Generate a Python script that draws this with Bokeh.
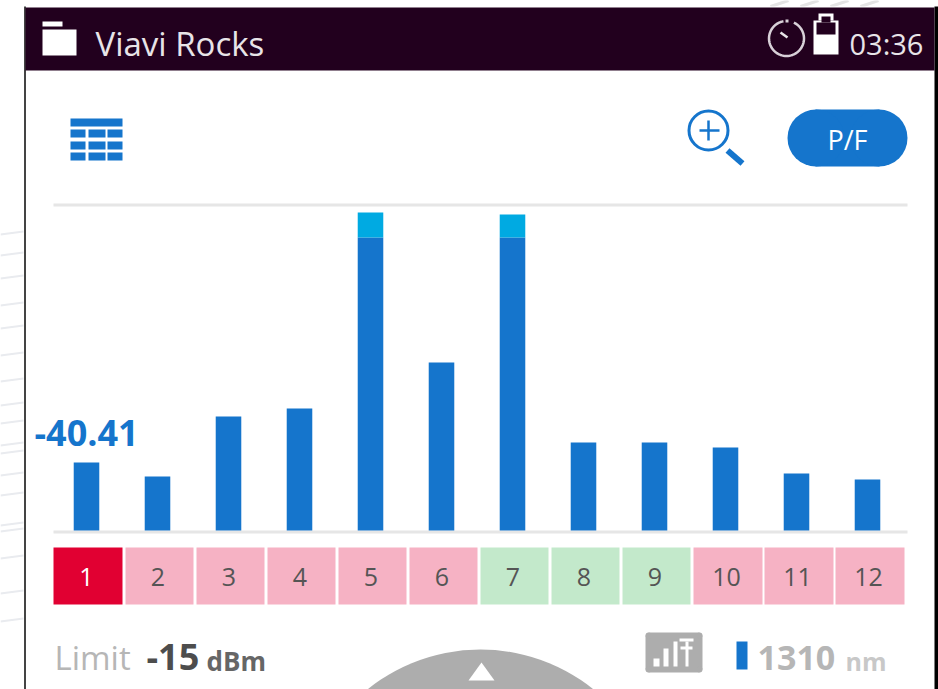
import math
from bokeh.plotting import figure
from bokeh.embed import file_html
from bokeh.resources import INLINE
from bokeh.models import Range1d
from bokeh.core.properties import value

channels = [1, 2, 3, 4, 5, 6, 7, 8, 9, 10, 11, 12]
levels = [68, 54, 114, 122, 293, 168, 293, 88, 88, 83, 57, 51]
overflow = [0, 0, 0, 0, 25, 0, 23, 0, 0, 0, 0, 0]
status = ["sel", "fail", "fail", "fail", "fail", "fail", "pass", "pass", "pass", "fail", "fail", "fail"]
title = "Viavi Rocks"
clock = "03:36"
readout = "-40.41"
limit_label, limit_value, limit_unit = "Limit", "-15", "dBm"
wave_value, wave_unit = "1310", "nm"

BLUE = "#1575cc"
CYAN = "#00aae2"
HEAD = "#22001e"
tile_fill = {"sel": "#e10032", "fail": "#f6b2c4", "pass": "#c3e9cb"}
tile_text = {"sel": "#ffffff", "fail": "#555555", "pass": "#555555"}
tile_left = [53, 125, 196, 267, 338, 409, 480, 551, 622, 693, 764, 835]
tile_right = [122, 193, 264, 335, 406, 477, 548, 619, 690, 762, 833, 904]
FONT = "Open Sans"

p = figure(width=938, height=689, x_range=Range1d(0, 938), y_range=Range1d(689, 0),
           toolbar_location=None, output_backend="svg", min_border=0,
           x_axis_location=None, y_axis_location=None)
p.grid.visible = False
p.outline_line_color = None
p.background_fill_color = "#ffffff"
p.border_fill_color = "#ffffff"
p.extra_x_ranges["ch"] = Range1d(1 + (0 - 86) / 71.0, 1 + (938 - 86) / 71.0)
p.extra_y_ranges["lv"] = Range1d(530 - 689, 530)


def txt(x, y, s, size, color, style="normal", align="left", font=FONT):
    p.text([x], [y], text=[s], text_font=value(font), text_font_size=f"{size}px",
           text_color=color, text_font_style=style, text_align=align, text_baseline="middle")


# streaks of the photo background
streak_y = [231, 252, 275, 302, 325, 352, 378, 402, 420, 442, 450, 472, 492, 522, 528, 555, 590, 618]
for sy in streak_y:
    p.line([0, 23], [sy + 3, sy], line_color="#e9ebef", line_width=2)
for sx in (770, 800, 830, 860):
    p.line([sx, sx + 18], [6, 0], line_color="#e4e4e4", line_width=3)

# device frame
p.quad(left=[25], right=[934], top=[6], bottom=[689], fill_color="#ffffff", line_color=None)
p.line([24.5, 24.5], [6, 689], line_color="#444444", line_width=2)
p.quad(left=[934], right=[938], top=[6], bottom=[689], fill_color="#000000", line_color=None)
p.quad(left=[25], right=[934], top=[7], bottom=[70], fill_color=HEAD, line_color=None)

# header
p.quad(left=[42], right=[76], top=[29], bottom=[55], fill_color="#ffffff", line_color=None)
p.quad(left=[42], right=[62], top=[21], bottom=[26], fill_color="#ffffff", line_color=None)
txt(95, 43, title, 33, "#e8e4e8")
txt(849, 43, clock, 29, "#e8e4e8")
ring = [a * math.pi / 180 for a in range(-65, 265, 5)]
p.line([786 + 17.5 * math.cos(a) for a in ring], [38 + 17.5 * math.sin(a) for a in ring],
       line_color="#d8d0d8", line_width=2.5)
p.line([780, 787], [32, 37], line_color="#e8e4e8", line_width=2.5)
p.quad(left=[785], right=[788], top=[19], bottom=[22], fill_color="#d8d0d8", line_color=None)
p.quad(left=[813], right=[838], top=[20], bottom=[54], fill_color="#ffffff", line_color=None)
p.quad(left=[818], right=[833], top=[13], bottom=[20], fill_color="#ffffff", line_color=None)
p.quad(left=[816], right=[835], top=[22], bottom=[34], fill_color=HEAD, line_color=None)
p.quad(left=[821], right=[830], top=[16], bottom=[22], fill_color=HEAD, line_color=None)

# table icon
p.quad(left=[70], right=[122], top=[118], bottom=[126], fill_color=BLUE, line_color=None)
for top in (129, 141, 152):
    p.quad(left=[70, 88, 107], right=[85, 105, 122], top=[top] * 3, bottom=[top + 8] * 3,
           fill_color=BLUE, line_color=None)

# zoom icon
p.circle([708], [130], radius=19.5, fill_color=None, line_color=BLUE, line_width=3)
p.line([699, 719], [130, 130], line_color=BLUE, line_width=2.5)
p.line([708, 708], [120, 140], line_color=BLUE, line_width=2.5)
p.line([727, 742], [150, 163], line_color=BLUE, line_width=6)

# P/F pill
p.quad(left=[815], right=[879], top=[109], bottom=[166], fill_color=BLUE, line_color=None)
p.circle([815.5, 878.5], [137.5, 137.5], radius=28.5, fill_color=BLUE, line_color=None)
txt(847, 139, "P/F", 27, "#ffffff", align="center")

# plot rules
p.quad(left=[53], right=[907], top=[203], bottom=[206], fill_color="#e6e6e6", line_color=None)
p.quad(left=[53], right=[907], top=[530], bottom=[533], fill_color="#e6e6e6", line_color=None)

# bars
p.vbar(x=channels, width=0.36, bottom=0, top=levels, fill_color=BLUE, line_color=None,
       x_range_name="ch", y_range_name="lv")
cap_x = [c for c, o in zip(channels, overflow) if o]
cap_b = [l for l, o in zip(levels, overflow) if o]
cap_t = [l + o for l, o in zip(levels, overflow) if o]
p.vbar(x=cap_x, width=0.36, bottom=cap_b, top=cap_t, fill_color=CYAN, line_color=None,
       x_range_name="ch", y_range_name="lv")

txt(34, 432, readout, 36, BLUE, style="bold")

# channel tiles
p.quad(left=tile_left, right=tile_right, top=[547] * 12, bottom=[604] * 12,
       fill_color=[tile_fill[s] for s in status], line_color=None)
for c, l, r, s in zip(channels, tile_left, tile_right, status):
    txt((l + r) / 2 - 1.5, 576, str(c), 25, tile_text[s], align="center")

# footer
txt(54, 657, limit_label, 33, "#b6b6b6")
txt(146, 656, limit_value, 36, "#4d4d4d", style="bold")
txt(206, 660, limit_unit, 26, "#666666", style="bold")

p.circle([480], [829], radius=180, fill_color="#adadad", line_color=None)
p.patch([468, 481, 494], [680, 662, 680], fill_color="#ffffff", line_color=None)

p.quad(left=[648], right=[699], top=[632], bottom=[672], fill_color="#adadad", line_color=None)
p.quad(left=[645], right=[702], top=[635], bottom=[669], fill_color="#adadad", line_color=None)
p.circle([648, 699, 648, 699], [635, 635, 669, 669], radius=3, fill_color="#adadad", line_color=None)
p.quad(left=[653, 663, 673], right=[659, 668, 677], top=[658, 648, 641], bottom=[666, 666, 666],
       fill_color="#ffffff", line_color=None)
p.quad(left=[685], right=[688], top=[641], bottom=[666], fill_color="#ffffff", line_color=None)
p.quad(left=[679], right=[693], top=[638], bottom=[641], fill_color="#ffffff", line_color=None)
p.quad(left=[680], right=[692], top=[646], bottom=[649], fill_color="#ffffff", line_color=None)

p.quad(left=[736], right=[747], top=[641], bottom=[669], fill_color=BLUE, line_color=None)
txt(757, 657, wave_value, 34, "#b6b6b6", style="bold")
txt(845, 660, wave_unit, 25, "#c8c8c8", style="bold")

open("out.html", "w").write(file_html(p, INLINE))
